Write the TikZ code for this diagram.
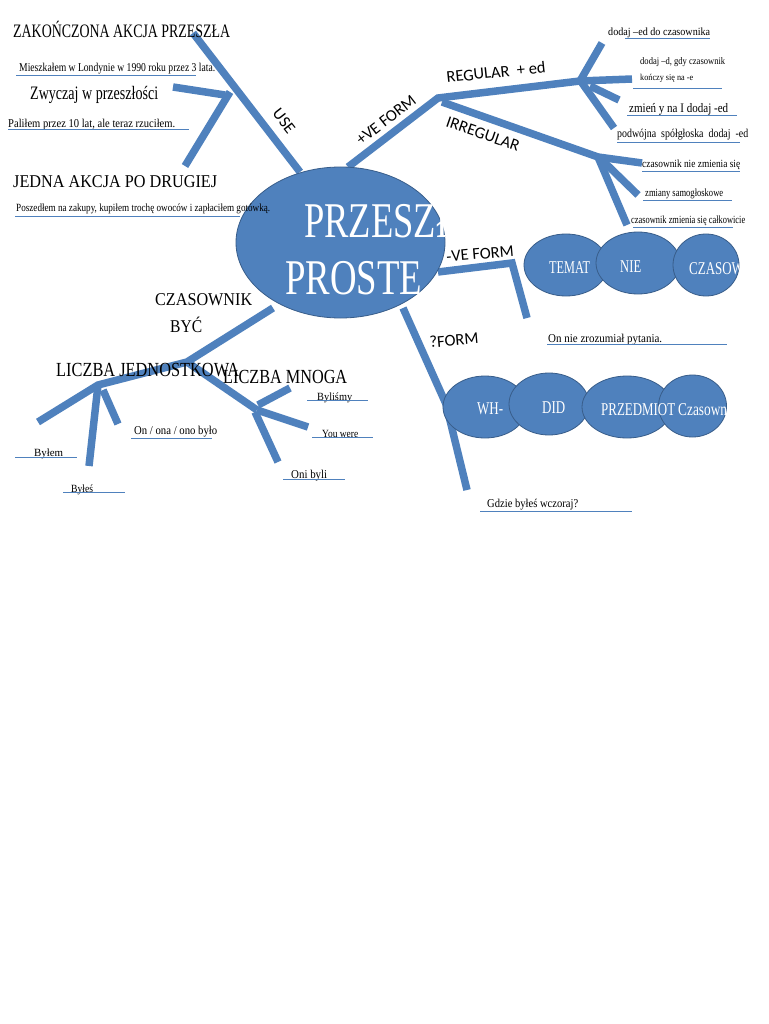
\documentclass[tikz,border=0pt]{standalone}
\usepackage{fontspec}
\usetikzlibrary{shapes.geometric}
\setmainfont{Liberation Serif}
\newfontfamily\sansf{Carlito}
\definecolor{br}{RGB}{79,129,189}
\definecolor{bd}{RGB}{56,93,138}
\newcommand{\tx}[3]{\resizebox{#1pt}{\height}{\fontsize{#2pt}{#2pt}\selectfont #3}}
\newcommand{\sx}[3]{\scalebox{#1}[1]{\fontsize{#2pt}{#2pt}\selectfont #3}}
\begin{document}
\begin{tikzpicture}[x=1pt,y=-1pt,
 branch/.style={draw=br, line width=7.5pt},
 uline/.style={draw=br, line width=0.9pt},
 txt/.style={anchor=base west, inner sep=0pt, text=black},
 lbl/.style={inner sep=0pt, font=\sansf\fontsize{16.5pt}{16.5pt}\selectfont},
 bub/.style={ellipse, fill=br, draw=bd, line width=0.8pt, inner sep=0pt, minimum height=62pt},
 wt/.style={anchor=base west, inner sep=0pt, text=white}]
\useasboundingbox (0,0) rectangle (768,1024);
\fill[white] (0,0) rectangle (768,1024);

% ---------- coordinates ----------
\coordinate (uA) at (300,172); \coordinate (uT) at (193,33);
\coordinate (uJ) at (230,92); \coordinate (uJ2) at (225,95);
\coordinate (uL) at (173,87); \coordinate (uD) at (185,166);
\coordinate (pA) at (348,167); \coordinate (pJ) at (438,98);
\coordinate (pJ2) at (442,102);
\coordinate (rJ) at (580,81); \coordinate (rJ2) at (590,86); \coordinate (rJ3) at (582,83);
\coordinate (rU) at (602,43); \coordinate (rR) at (632,79);
\coordinate (rM) at (619,100); \coordinate (rD) at (614,128);
\coordinate (iJ) at (598,157); \coordinate (iJ2) at (602,160);
\coordinate (iR) at (642,163); \coordinate (iM) at (638,195); \coordinate (iD) at (627,225);
\coordinate (nA) at (438,272); \coordinate (nB) at (512,263); \coordinate (nC) at (527,318);
\coordinate (qA) at (403,308); \coordinate (qB) at (446,404); \coordinate (qC) at (467,490);
\coordinate (bA) at (273,308); \coordinate (bB) at (187,362);
\coordinate (bC) at (98,385); \coordinate (bD) at (38,422);
\coordinate (bC2) at (103,390);
\coordinate (bE) at (89,466); \coordinate (bF) at (118,424);
\coordinate (mJ) at (257,410); \coordinate (mJ2) at (258,405); \coordinate (mJ3) at (255,412);
\coordinate (mU) at (290,388); \coordinate (mR) at (308,427); \coordinate (mD) at (278,462);

% ---------- branches ----------
\draw[branch] (uA) -- (uT);
\draw[branch] (uJ2) -- (uL);
\draw[branch] (uJ) -- (uD);
\draw[branch] (pA) -- (pJ) -- (rJ);
\draw[branch] (pJ2) -- (iJ);
\draw[branch] (rJ) -- (rU);
\draw[branch] (rJ) -- (rR);
\draw[branch] (rJ2) -- (rM);
\draw[branch] (rJ3) -- (rD);
\draw[branch] (iJ) -- (iR);
\draw[branch] (iJ2) -- (iM);
\draw[branch] (iJ) -- (iD);
\draw[branch] (nA) -- (nB) -- (nC);
\draw[branch] (qA) -- (qB) -- (qC);
\draw[branch] (bA) -- (bB) -- (bC) -- (bD);
\draw[branch] (bC) -- (bE);
\draw[branch] (bC2) -- (bF);
\draw[branch] (bB) -- (mJ);
\draw[branch] (mJ2) -- (mU);
\draw[branch] (mJ) -- (mR);
\draw[branch] (mJ3) -- (mD);

% ---------- main ellipse ----------
\node[bub, minimum width=209pt, minimum height=151pt] (main) at (340.5,242.5) {};
\begin{scope}
\clip (236,150) rectangle (444,330);
\node[wt] (m1) at (304,237) {\sx{0.73}{50}{PRZESZŁY}};
\end{scope}
\node[wt] (m2) at (285,294) {\tx{137}{50}{PROSTE}};

% ---------- bubbles ----------
\node[bub, minimum width=84pt] (temat) at (566,265) {};
\node[bub, minimum width=84pt] (nie) at (638,263) {};
\node[bub, minimum width=66pt] (czas) at (706,265) {};
\node[bub, minimum width=84pt] (wh) at (485,407) {};
\node[bub, minimum width=80pt] (did) at (549,404) {};
\node[bub, minimum width=90pt] (prz) at (627,407) {};
\node[bub, minimum width=68pt] (cz) at (692.5,406) {};

\node[wt] (tTemat) at (549,273) {\tx{41}{18}{TEMAT}};
\node[wt] (tNie) at (620,272) {\tx{21}{18}{NIE}};
\begin{scope}
\clip (706,265) ellipse [x radius=32.5pt, y radius=31pt];
\node[wt] (tCzas) at (689,274) {\sx{0.72}{18}{CZASOWNIK}};
\end{scope}
\node[wt] (tWh) at (477,414) {\tx{26}{18}{WH-}};
\node[wt] (tDid) at (542,413) {\tx{23}{18}{DID}};
\node[wt] (tPrz) at (601,415) {\tx{74}{18}{PRZEDMIOT}};
\begin{scope}
\clip (692.5,406) ellipse [x radius=34pt, y radius=31pt];
\node[wt] (tCz) at (678,415) {\sx{0.74}{18}{Czasownik}};
\end{scope}

% ---------- sans labels ----------
\node[lbl, rotate=-52] (lUse) at (284,121) {USE};
\node[lbl, rotate=38] (lPve) at (386,120) {+VE FORM};
\node[lbl, rotate=6] (lReg) at (496,72) {REGULAR~~+ ed};
\node[lbl, rotate=-19] (lIrr) at (483,134) {IRREGULAR};
\node[lbl, rotate=5] (lNve) at (480,254) {-VE FORM};
\node[lbl, rotate=5] (lQ) at (454,340) {?FORM};

% ---------- left texts ----------
\node[txt] (t1) at (13,38) {\tx{217}{19}{ZAKOŃCZONA AKCJA PRZESZŁA}};
\node[txt] (t2) at (19,72) {\tx{196}{12}{Mieszkałem w Londynie w 1990 roku przez 3 lata.}};
\node[txt] (t3) at (30,100) {\tx{128}{19}{Zwyczaj w przeszłości}};
\node[txt] (t4) at (8,128) {\tx{167}{12}{Paliłem przez 10 lat, ale teraz rzuciłem.}};
\node[txt] (t5) at (13,188) {\tx{204}{18}{JEDNA AKCJA PO DRUGIEJ}};
\node[txt] (t6) at (16,212) {\tx{254}{11}{Poszedłem na zakupy, kupiłem trochę owoców i zapłaciłem gotówką.}};

% ---------- right texts ----------
\node[txt] (r1) at (608,36) {\tx{102}{11}{dodaj –ed do czasownika}};
\node[txt] (r2) at (640,65) {\tx{85}{10}{dodaj –d, gdy czasownik}};
\node[txt] (r3) at (640,81) {\tx{53}{9}{kończy się na -e}};
\node[txt] (r4) at (629,113) {\tx{99}{13}{zmień y na I dodaj -ed}};
\node[txt] (r5) at (617,138) {\tx{131}{12}{podwójna~ spółgłoska~ dodaj~ -ed}};
\node[txt] (r6) at (642,168) {\tx{98}{11}{czasownik nie zmienia się}};
\node[txt] (r7) at (645,197) {\tx{78}{11}{zmiany samogłoskowe}};
\node[txt] (r8) at (631,223) {\tx{114}{11}{czasownik zmienia się całkowicie}};
\node[txt] (r9) at (548,342) {\tx{114}{12}{On nie zrozumiał pytania.}};
\node[txt] (r10) at (487,507) {\tx{91}{12}{Gdzie byłeś wczoraj?}};

% ---------- lower-left texts ----------
\node[txt] (c1) at (155,305) {\tx{97}{18}{CZASOWNIK}};
\node[txt] (c2) at (170,332) {\tx{32}{18}{BYĆ}};
\node[txt] (c3) at (56,376) {\tx{183}{20}{LICZBA JEDNOSTKOWA}};
\node[txt] (c4) at (223,383) {\tx{124}{20}{LICZBA MNOGA}};
\node[txt] (c5) at (317,400) {\tx{35}{11}{Byliśmy}};
\node[txt] (c6) at (322,437) {\tx{36}{11}{You were}};
\node[txt] (c7) at (291,478) {\tx{36}{12}{Oni byli}};
\node[txt] (c8) at (134,434) {\tx{83}{12}{On / ona / ono było}};
\node[txt] (c9) at (34,456) {\tx{29}{11}{Byłem}};
\node[txt] (c10) at (71,492) {\tx{22}{11}{Byłeś}};

% ---------- underlines ----------
\coordinate (a1) at (16,75);  \coordinate (b1) at (196,75);
\coordinate (a2) at (8,129);  \coordinate (b2) at (189,129);
\coordinate (a3) at (15,216); \coordinate (b3) at (240,216);
\coordinate (a4) at (625,38); \coordinate (b4) at (710,38);
\coordinate (a5) at (633,88); \coordinate (b5) at (722,88);
\coordinate (a6) at (627,115); \coordinate (b6) at (737,115);
\coordinate (a7) at (617,142); \coordinate (b7) at (740,142);
\coordinate (a8) at (642,171); \coordinate (b8) at (740,171);
\coordinate (a9) at (643,200); \coordinate (b9) at (732,200);
\coordinate (a10) at (633,227); \coordinate (b10) at (733,227);
\coordinate (a11) at (547,344); \coordinate (b11) at (727,344);
\coordinate (a12) at (480,511); \coordinate (b12) at (632,511);
\coordinate (a13) at (307,400); \coordinate (b13) at (368,400);
\coordinate (a14) at (312,437); \coordinate (b14) at (373,437);
\coordinate (a15) at (283,479); \coordinate (b15) at (345,479);
\coordinate (a16) at (131,438); \coordinate (b16) at (212,438);
\coordinate (a17) at (15,457); \coordinate (b17) at (77,457);
\coordinate (a18) at (63,492); \coordinate (b18) at (125,492);
\foreach \i in {1,...,18} {\draw[uline] (a\i) -- (b\i);}
\end{tikzpicture}
\end{document}
